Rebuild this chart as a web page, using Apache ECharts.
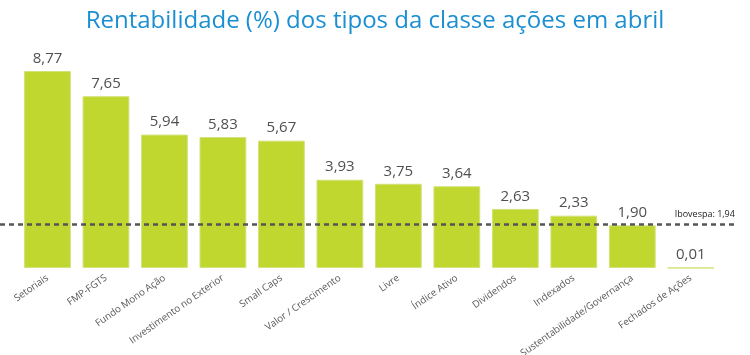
<!DOCTYPE html>
<html><head><meta charset="utf-8">
<script src="https://cdn.jsdelivr.net/npm/echarts@6/dist/echarts.min.js"></script>
<style>html,body{margin:0;padding:0;background:#fff}#c{width:750px;height:355px}</style>
</head><body><div id="c"></div>
<script>
const categories = ["Setoriais","FMP-FGTS","Fundo Mono Ação","Investimento no Exterior","Small Caps","Valor / Crescimento","Livre","Índice Ativo","Dividendos","Indexados","Sustentabilidade/Governança","Fechados de Ações"];
const values = [8.77,7.65,5.94,5.83,5.67,3.93,3.75,3.64,2.63,2.33,1.90,0.01];
const benchmarkValue = 1.94;
const benchmarkLabel = "Ibovespa: 1,94";
const titleText = "Rentabilidade (%) dos tipos da classe ações em abril";

const fmt = v => v.toFixed(2).replace('.', ',');
const font = "'Open Sans', 'Noto Sans', sans-serif";
const chart = echarts.init(document.getElementById('c'));
chart.setOption({
  animation: false,
  title: { text: titleText, left: 'center', top: 4,
    textStyle: { color: '#1B8FD2', fontSize: 24, fontWeight: 'normal', fontFamily: font } },
  grid: [
    { left: 18.25, right: 30, top: 43.4, bottom: 87, outerBoundsMode: 'none', containLabel: false },
    { left: 0, right: 12, top: 43.4, bottom: 87, outerBoundsMode: 'none', containLabel: false }
  ],
  xAxis: [
    { type: 'category', gridIndex: 0, data: categories,
      axisLine: { show: false }, axisTick: { show: false },
      axisLabel: { interval: 0, rotate: 35, color: '#595959', fontSize: 9.8, fontFamily: font, margin: 9 } },
    { type: 'value', gridIndex: 1, min: 0, max: 1, show: false }
  ],
  yAxis: [
    { type: 'value', gridIndex: 0, min: 0, max: 10, show: false },
    { type: 'value', gridIndex: 1, min: 0, max: 10, show: false }
  ],
  series: [
    { type: 'bar', xAxisIndex: 0, yAxisIndex: 0, data: values, barCategoryGap: '20%',
      itemStyle: { color: '#C0D72F', borderColor: '#D3E27A', borderWidth: 1 },
      label: { show: true, position: 'top', distance: 5, color: '#505050', fontSize: 15, fontFamily: font,
        formatter: p => fmt(p.value) } },
    { type: 'line', xAxisIndex: 1, yAxisIndex: 1, symbol: 'circle', symbolSize: 0, showSymbol: true, z: 5,
      data: [[0, benchmarkValue], {value: [0.955, benchmarkValue], label: { show: true, position: 'top', distance: 5,
        formatter: benchmarkLabel, color: '#222', fontSize: 9, fontFamily: font }}, [1, benchmarkValue]],
      lineStyle: { color: '#555', width: 2.5, type: [5, 4] } }
  ]
});
</script></body></html>
